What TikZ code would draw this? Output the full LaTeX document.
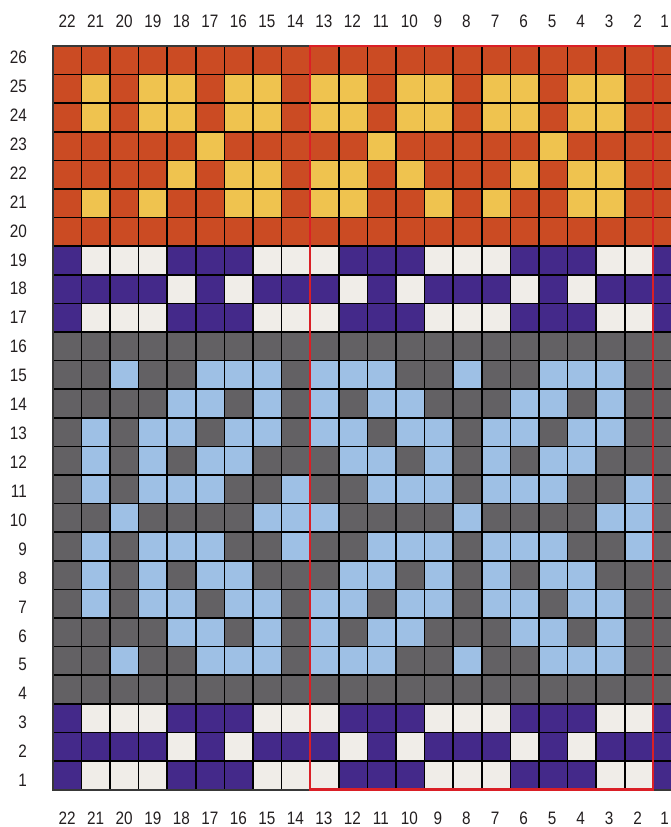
\documentclass[tikz,border=0pt]{standalone}
\usepackage{fontspec}
\setmainfont{Liberation Sans}[FakeStretch=0.85]
\definecolor{colO}{HTML}{CB4B23}
\definecolor{colY}{HTML}{EFC34F}
\definecolor{colP}{HTML}{44298A}
\definecolor{colW}{HTML}{F0EDE8}
\definecolor{colG}{HTML}{636164}
\definecolor{colB}{HTML}{9EC0E5}
\definecolor{labelcol}{HTML}{231F20}
\definecolor{framered}{HTML}{DA1F26}
\newcommand\cellrow[2]{%
  \edef\mycelllist{#2}%
  \foreach \c [count=\i from 0] in \mycelllist {%
    \fill[fill=col\c] ({52.7+\i*28.6},{46+(26-#1)*28.6}) rectangle ++(28.6,28.6);
  }}
\def\rowOall{O,O,O,O,O,O,O,O,O,O,O,O,O,O,O,O,O,O,O,O,O,O}
\def\rowGall{G,G,G,G,G,G,G,G,G,G,G,G,G,G,G,G,G,G,G,G,G,G}
\def\rowYa{O,Y,O,Y,Y,O,Y,Y,O,Y,Y,O,Y,Y,O,Y,Y,O,Y,Y,O,O}
\def\rowPa{P,W,W,W,P,P,P,W,W,W,P,P,P,W,W,W,P,P,P,W,W,P}
\def\rowPb{P,P,P,P,W,P,W,P,P,P,W,P,W,P,P,P,W,P,W,P,P,P}
\def\rowBa{G,G,B,G,G,B,B,B,G,B,B,B,G,G,B,G,G,B,B,B,G,G}
\def\rowBb{G,G,G,G,B,B,G,B,G,B,G,B,B,G,G,G,B,B,G,B,G,G}
\def\rowBc{G,B,G,B,B,G,B,B,G,B,B,G,B,B,G,B,B,G,B,B,G,G}
\def\rowBd{G,B,G,B,G,B,B,G,G,G,B,B,G,B,G,B,G,B,B,G,G,G}
\def\rowBe{G,B,G,B,B,B,G,G,B,G,G,B,B,B,G,B,B,B,G,G,B,G}
\def\rowBf{G,G,B,G,G,G,G,B,B,B,G,G,G,G,B,G,G,G,G,B,B,G}
\tikzset{
  lbl/.style={text=labelcol, font=\fontsize{18}{18}\selectfont, inner sep=0pt},
  gridline/.style={black, line width=1.6pt},
}
\begin{document}
\begin{tikzpicture}[x=1pt,y=-1pt]
\useasboundingbox (0,0) rectangle (671,827);
\clip (0,0) rectangle (671,827);
\fill[white] (0,0) rectangle (671,827);
% cells
\cellrow{26}{\rowOall}
\cellrow{25}{\rowYa}
\cellrow{24}{\rowYa}
\cellrow{23}{O,O,O,O,O,Y,O,O,O,O,O,Y,O,O,O,O,O,Y,O,O,O,O}
\cellrow{22}{O,O,O,O,Y,O,Y,Y,O,Y,Y,O,Y,O,O,O,Y,O,Y,Y,O,O}
\cellrow{21}{O,Y,O,Y,O,O,Y,Y,O,Y,Y,O,O,Y,O,Y,O,O,Y,Y,O,O}
\cellrow{20}{\rowOall}
\cellrow{19}{\rowPa}
\cellrow{18}{\rowPb}
\cellrow{17}{\rowPa}
\cellrow{16}{\rowGall}
\cellrow{15}{\rowBa}
\cellrow{14}{\rowBb}
\cellrow{13}{\rowBc}
\cellrow{12}{\rowBd}
\cellrow{11}{\rowBe}
\cellrow{10}{\rowBf}
\cellrow{9}{\rowBe}
\cellrow{8}{\rowBd}
\cellrow{7}{\rowBc}
\cellrow{6}{\rowBb}
\cellrow{5}{\rowBa}
\cellrow{4}{\rowGall}
\cellrow{3}{\rowPa}
\cellrow{2}{\rowPb}
\cellrow{1}{\rowPa}
% grid lines
\foreach \k in {0,...,22} {
  \draw[gridline] ({52.7+\k*28.6},46) -- ({52.7+\k*28.6},789.6);
}
\foreach \k in {0,...,26} {
  \draw[gridline] (52.7,{46+\k*28.6}) -- (690,{46+\k*28.6});
}
\draw[line width=2pt, draw=black!78] (52.7,46) rectangle (681.9,789.6);
% red repeat frame
\draw[framered, line width=2.3pt] (310.1,46) rectangle (653.3,789.6);
% column labels
\foreach \c in {2,...,22} {
  \node[lbl] (ct\c) at ({67.2+(22-\c)*28.52},21) {\c};
  \node[lbl] (cb\c) at ({67.2+(22-\c)*28.52},818) {\c};
}
\node[lbl] (ct1) at (664.5,21) {1};
\node[lbl] (cb1) at (664.5,818) {1};
% row labels
\foreach \r in {1,...,26} {
  \node[lbl, anchor=east] (rl\r) at (27,{57.3+(26-\r)*28.93}) {\r};
}
\end{tikzpicture}
\end{document}
